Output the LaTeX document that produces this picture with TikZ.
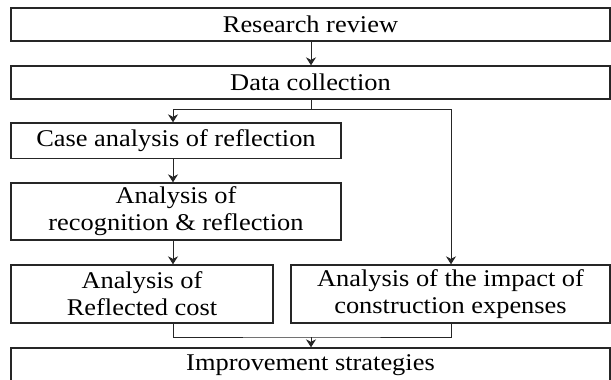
\documentclass[tikz,border=0pt]{standalone}
\usepackage{fontspec}
\setmainfont{Liberation Serif}[FakeStretch=1.1]
\usetikzlibrary{arrows.meta}
\begin{document}
\begin{tikzpicture}[x=1pt,y=-1pt,
  stagebox/.style={draw=black!85,line width=1.4pt,inner sep=0pt,align=center,
    font=\fontsize{24}{27}\selectfont},
  link/.style={draw=black!85,line width=0.9pt},
  arr/.style={link,-{Stealth[length=8pt,width=10pt]}}]
\clip (0,0) rectangle (611,380);
% process stages
\node[stagebox,minimum width=599pt,minimum height=33pt] (rr) at (310.5,24.5) {Research review};
\node[stagebox,minimum width=599pt,minimum height=33pt] (dc) at (310.5,82.5) {Data collection};
\node[stagebox,minimum width=330pt,minimum height=35.5pt] (case) at (176,140.75) {Case analysis of reflection};
\node[stagebox,minimum width=330pt,minimum height=57pt] (recog) at (176,211.5) {Analysis of\\recognition \& reflection};
\node[stagebox,minimum width=262pt,minimum height=58pt] (refl) at (142,294) {Analysis of\\Reflected cost};
\node[stagebox,minimum width=319pt,minimum height=58pt] (impact) at (450.5,294) {Analysis of the impact of\\construction expenses};
\node[stagebox,minimum width=599pt,minimum height=34pt] (imp) at (310.5,365) {Improvement strategies};
% branch columns and junctions
\coordinate (lx) at (173,0);
\coordinate (rx) at (451,0);
\coordinate (fork) at (311,109);
\coordinate (join) at (311,337);
% connectors
\draw[arr] (fork |- rr.south) -- (fork |- dc.north);
\draw[link] (fork |- dc.south) -- (fork);
\draw[arr] (fork) -| (lx |- case.north);
\draw[arr] (fork) -| (rx |- impact.north);
\draw[arr] (lx |- case.south) -- (lx |- recog.north);
\draw[arr] (lx |- recog.south) -- (lx |- refl.north);
\draw[link] (lx |- refl.south) |- (join) -| (rx |- impact.south);
\draw[arr] (join) -- (join |- imp.north);
\end{tikzpicture}
\end{document}
